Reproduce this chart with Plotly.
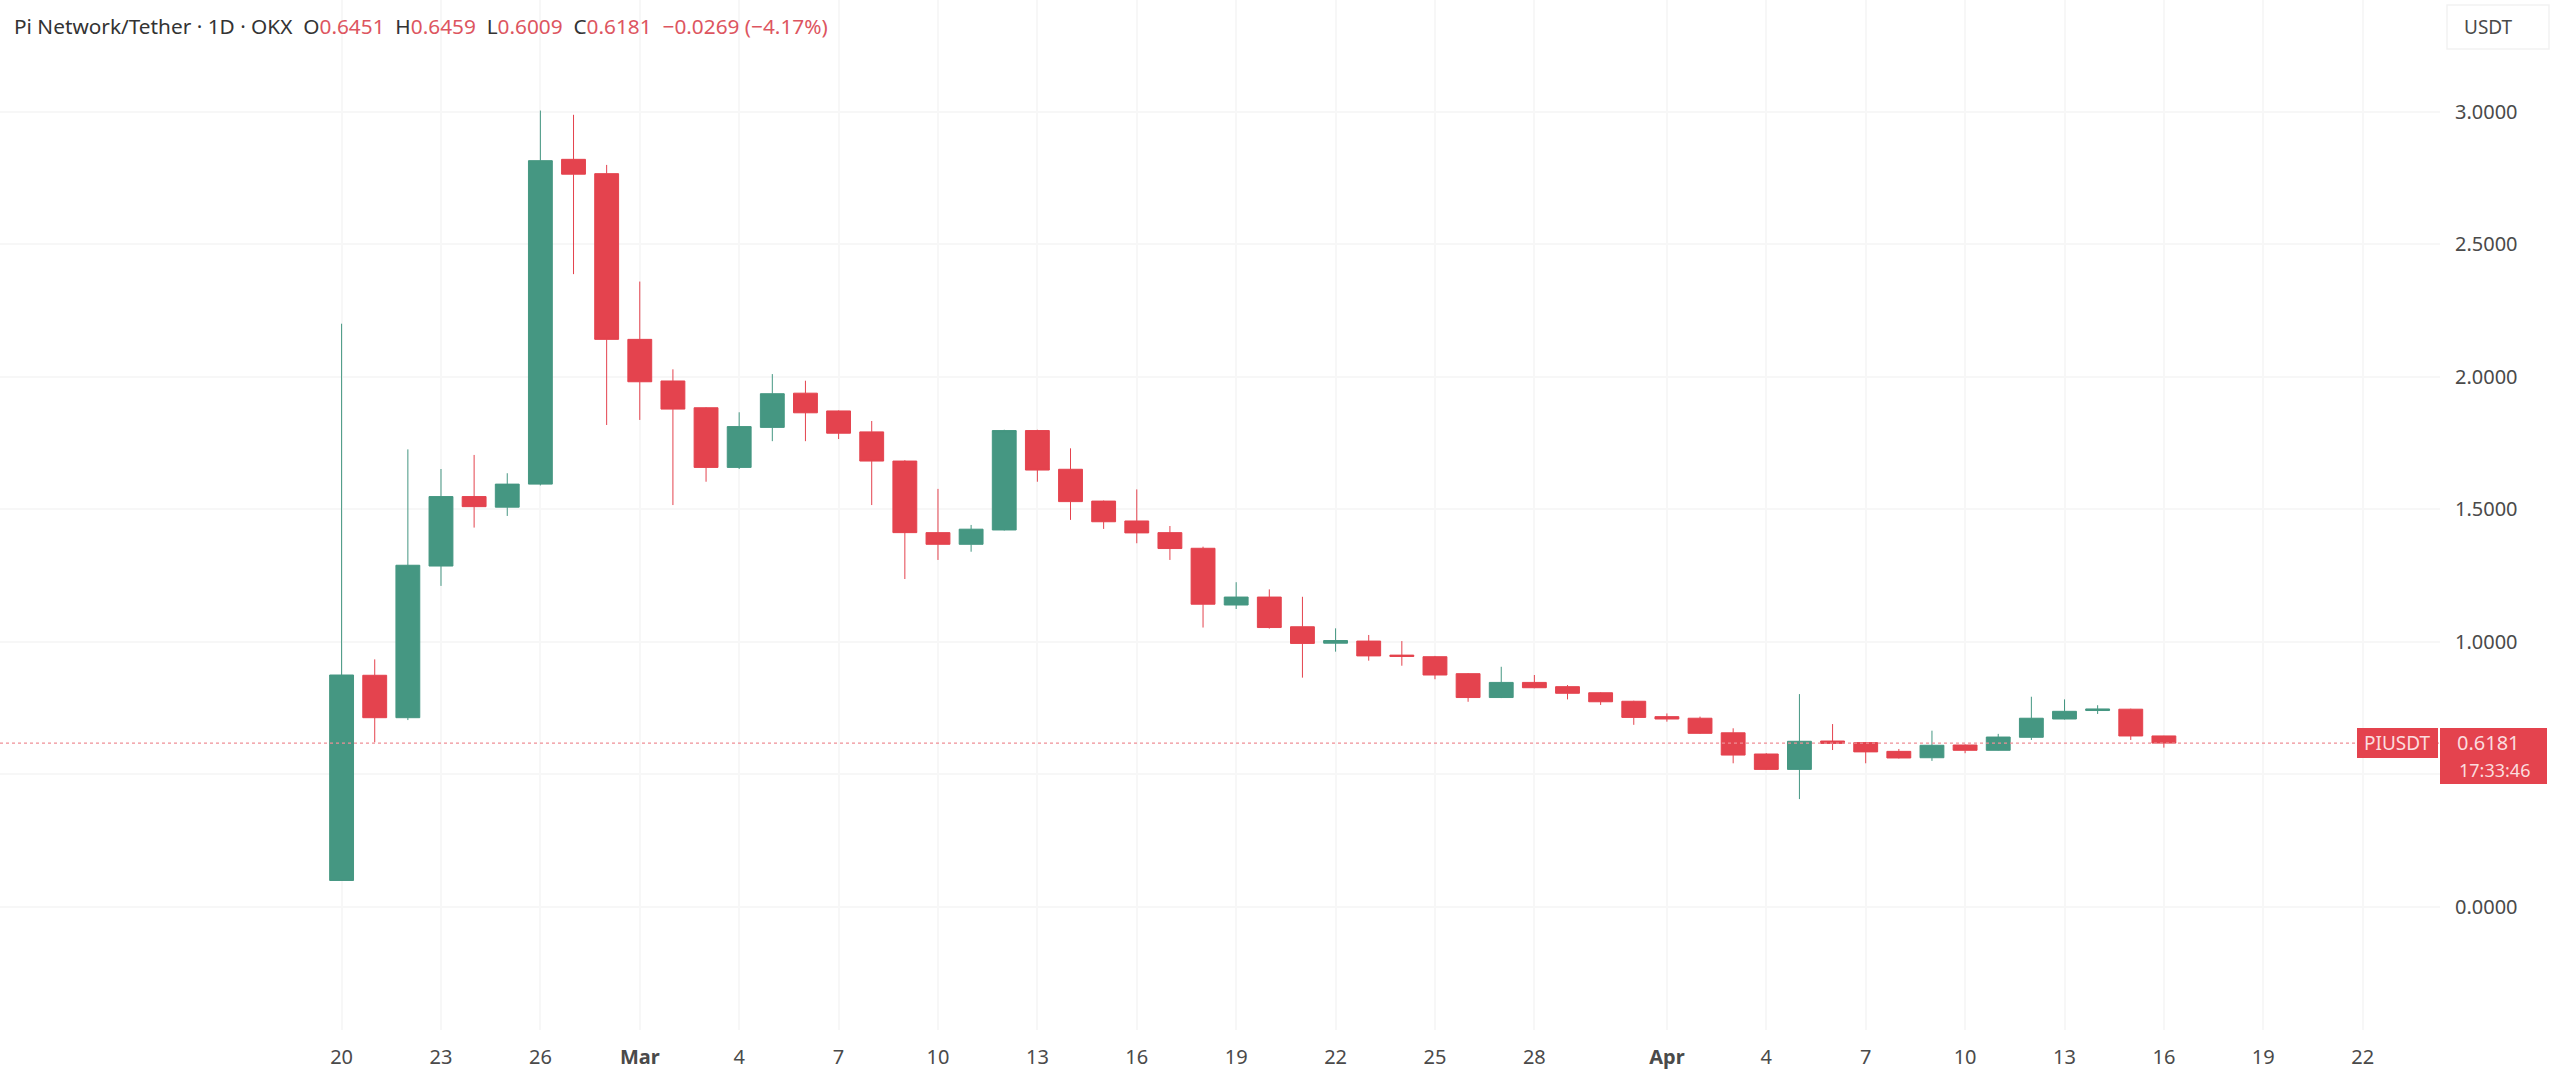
import pandas as pd
import plotly.graph_objects as go

W, H = 2560, 1080
PLOT_W, PLOT_H = 2440, 1030

# daily candles, Feb 20 to Apr 16
dates = pd.date_range("2025-02-20", "2025-04-16", freq="D")
opens = [0.100, 0.874, 0.714, 1.286, 1.548, 1.508, 1.595, 2.820, 2.766,
         2.141, 1.984, 1.883, 1.658, 1.809, 1.938, 1.871, 1.792, 1.682, 1.412, 1.368,
         1.422, 1.797, 1.651, 1.531, 1.456, 1.412, 1.353, 1.139, 1.169, 1.057,
         0.995, 1.003, 0.950, 0.944, 0.880, 0.790, 0.847, 0.831, 0.808, 0.776,
         0.718, 0.712, 0.657, 0.577, 0.519, 0.626, 0.620, 0.587, 0.563, 0.611,
         0.591, 0.640, 0.709, 0.741, 0.746, 0.6451]
highs = [2.200, 0.934, 1.726, 1.652, 1.705, 1.636, 3.004, 2.988, 2.799,
         2.359, 2.028, 1.885, 1.866, 2.010, 1.985, 1.873, 1.833, 1.685, 1.577, 1.441,
         1.800, 1.800, 1.730, 1.533, 1.575, 1.437, 1.359, 1.225, 1.198, 1.170,
         1.051, 1.026, 1.003, 0.947, 0.882, 0.906, 0.875, 0.837, 0.810, 0.778,
         0.730, 0.718, 0.674, 0.580, 0.803, 0.690, 0.622, 0.596, 0.665, 0.613,
         0.653, 0.793, 0.783, 0.761, 0.748, 0.6459]
lows = [0.100, 0.621, 0.705, 1.211, 1.431, 1.475, 1.590, 2.387, 1.818,
        1.837, 1.516, 1.604, 1.652, 1.757, 1.757, 1.765, 1.516, 1.237, 1.309, 1.340,
        1.420, 1.604, 1.460, 1.426, 1.372, 1.309, 1.054, 1.124, 1.050, 0.865,
        0.963, 0.929, 0.910, 0.859, 0.774, 0.788, 0.825, 0.783, 0.762, 0.687,
        0.699, 0.653, 0.542, 0.517, 0.407, 0.592, 0.542, 0.560, 0.551, 0.580,
        0.590, 0.630, 0.707, 0.728, 0.630, 0.6009]
closes = [0.875, 0.714, 1.289, 1.548, 1.510, 1.595, 2.815, 2.764, 2.141,
          1.981, 1.878, 1.658, 1.812, 1.936, 1.864, 1.787, 1.682, 1.412, 1.368, 1.425,
          1.797, 1.648, 1.529, 1.453, 1.411, 1.352, 1.142, 1.169, 1.054, 0.994,
          1.005, 0.947, 0.945, 0.875, 0.790, 0.847, 0.827, 0.806, 0.774, 0.715,
          0.709, 0.655, 0.573, 0.519, 0.625, 0.617, 0.585, 0.562, 0.610, 0.591,
          0.641, 0.712, 0.738, 0.747, 0.645, 0.6181]

x_tick_dates = ["2025-02-20", "2025-02-23", "2025-02-26", "2025-03-01", "2025-03-04",
                "2025-03-07", "2025-03-10", "2025-03-13", "2025-03-16", "2025-03-19",
                "2025-03-22", "2025-03-25", "2025-03-28", "2025-04-01", "2025-04-04",
                "2025-04-07", "2025-04-10", "2025-04-13", "2025-04-16", "2025-04-19",
                "2025-04-22"]
x_tick_labels = ["20", "23", "26", "<b>Mar</b>", "4", "7", "10", "13", "16", "19", "22",
                 "25", "28", "<b>Apr</b>", "4", "7", "10", "13", "16", "19", "22"]
y_ticks = [0, 0.5, 1, 1.5, 2, 2.5, 3]

GREEN = "#459782"
RED = "#e4434e"
HEADER_RED = "#dd5560"
GRID = "#f7f7f7"
FONT = "Noto Sans"
TEXT = "#4a4a4a"
LABEL = "#fbdcde"


def px_x(x):
    return x / PLOT_W


def px_y(y):
    return 1 - y / PLOT_H


def add_text(text, x, y, size, color, xanchor="left"):
    fig.add_annotation(x=px_x(x), y=px_y(y), xref="paper", yref="paper", text=text,
                       showarrow=False, xanchor=xanchor, yanchor="middle",
                       font=dict(family=FONT, size=size, color=color))


fig = go.Figure(go.Candlestick(
    x=dates, open=opens, high=highs, low=lows, close=closes,
    increasing=dict(line=dict(color=GREEN, width=1), fillcolor=GREEN),
    decreasing=dict(line=dict(color=RED, width=1), fillcolor=RED),
    whiskerwidth=0,
    showlegend=False,
))

fig.add_hline(y=closes[-1], line=dict(color="#f08f96", width=1.2, dash="dot"))

fig.update_xaxes(
    range=["2025-02-09 16:34", "2025-04-24 08:00"],
    rangeslider_visible=False,
    tickmode="array", tickvals=x_tick_dates, ticktext=x_tick_labels,
    tickangle=0, ticks="", showline=False, zeroline=False,
    gridcolor=GRID, gridwidth=1.5,
    tickfont=dict(family=FONT, size=20, color=TEXT),
    ticklabelstandoff=13,
)
fig.update_yaxes(
    side="right",
    range=[-0.464, 3.421],
    tickmode="array", tickvals=y_ticks, ticktext=[f"{v:.4f}" for v in y_ticks],
    ticks="", showline=False, zeroline=False,
    gridcolor=GRID, gridwidth=1.5,
    tickfont=dict(family=FONT, size=20, color=TEXT),
    ticklabelstandoff=14,
)

header = ("Pi Network/Tether · 1D · OKX&nbsp;&nbsp;"
          f"O<span style='color:{HEADER_RED}'>0.6451</span>&nbsp;&nbsp;"
          f"H<span style='color:{HEADER_RED}'>0.6459</span>&nbsp;&nbsp;"
          f"L<span style='color:{HEADER_RED}'>0.6009</span>&nbsp;&nbsp;"
          f"C<span style='color:{HEADER_RED}'>0.6181</span>&nbsp;&nbsp;"
          f"<span style='color:{HEADER_RED}'>−0.0269 (−4.17%)</span>")
add_text(header, 12, 26, 20.8, "#333333")

# price axis chrome
fig.add_shape(type="rect", xref="paper", yref="paper", layer="below",
              x0=px_x(2447), x1=px_x(2549), y0=px_y(5), y1=px_y(49),
              line=dict(color="#f2f2f2", width=1.5), fillcolor="white")
add_text("USDT", 2462, 27, 19, TEXT)

fig.add_shape(type="rect", xref="paper", yref="paper",
              x0=px_x(2357), x1=px_x(2438), y0=px_y(728), y1=px_y(758),
              line=dict(width=0), fillcolor=RED)
fig.add_shape(type="rect", xref="paper", yref="paper",
              x0=px_x(2440), x1=px_x(2547), y0=px_y(728), y1=px_y(784),
              line=dict(width=0), fillcolor=RED)
add_text("PIUSDT", 2397, 743, 19, LABEL, xanchor="center")
add_text(f"{closes[-1]:.4f}", 2455, 742, 20, LABEL)
add_text("17:33:46", 2457, 770, 18, LABEL)

fig.update_layout(
    width=W, height=H,
    margin=dict(l=0, r=W - PLOT_W, t=0, b=H - PLOT_H),
    paper_bgcolor="white", plot_bgcolor="white",
    showlegend=False,
    boxgap=0.2, boxgroupgap=0.1,
)

fig.write_html("out.html", config={"displayModeBar": False},
               post_script="document.body.style.margin = '0';")
